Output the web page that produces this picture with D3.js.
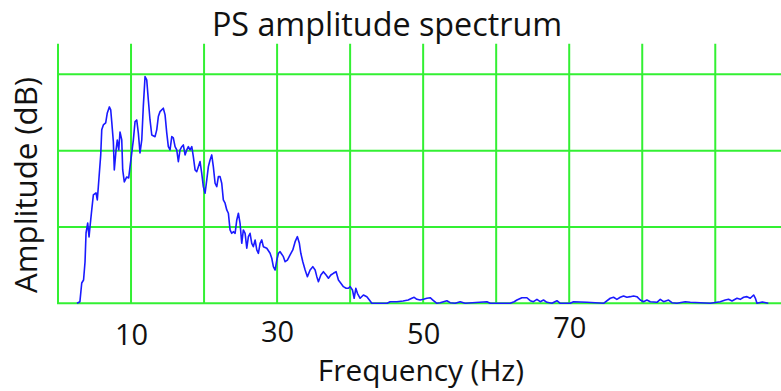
<!DOCTYPE html>
<html>
<head>
<meta charset="utf-8">
<script src="https://cdn.jsdelivr.net/npm/d3@7"></script>
<style>
  html, body { margin: 0; padding: 0; background: #fff; }
  svg { display: block; font-family: "Open Sans", "Noto Sans", sans-serif; }
</style>
</head>
<body>
<svg id="chart" width="781" height="391"></svg>
<script>
/* PS amplitude spectrum */

// spectrum: frequency (Hz) and amplitude (grid units of 10)
const freq = [
  2.6, 3.0, 3.25, 3.5, 3.7, 3.84, 4.07, 4.25, 4.38, 4.62, 4.84, 5.21, 5.38, 5.52, 5.85, 5.99,
  6.21, 6.53, 6.75, 7.03, 7.22, 7.36, 7.58, 7.71, 7.95, 8.12, 8.32, 8.49, 8.73, 8.86, 9.08, 9.41,
  9.68, 9.86, 10.1, 10.32, 10.55, 10.78, 11.0, 11.23, 11.47, 11.68, 11.92, 12.15, 12.37, 12.6, 12.84,
  13.29, 13.52, 13.74, 13.97, 14.42, 14.66, 14.89, 15.11, 15.34, 15.58, 15.79, 16.03, 16.26, 16.48,
  16.71, 16.95, 17.16, 17.4, 17.63, 17.85, 18.08, 18.32, 18.53, 18.77, 19.0, 19.22, 19.45, 19.68,
  19.9, 20.14, 20.37, 20.59, 20.82, 21.05, 21.27, 21.51, 21.74, 21.96, 22.19, 22.42, 22.64, 22.88,
  23.11, 23.33, 23.56, 23.79, 24.01, 24.25, 24.48, 24.7, 24.93, 25.16, 25.38, 25.62, 25.85, 26.07,
  26.3, 26.53, 26.75, 26.99, 27.22, 27.44, 27.67, 27.9, 28.12, 28.59, 29.04, 29.27, 29.49, 29.73,
  29.96, 30.18, 30.41, 30.86, 31.1, 31.41, 31.78, 32.15, 32.47, 32.78, 33.05, 33.25, 33.52, 33.84,
  34.15, 34.52, 34.89, 35.21, 35.44, 35.66, 35.99, 36.34, 36.71, 37.03, 37.36, 37.71, 38.08, 38.4,
  38.73, 39.08, 39.45, 39.77, 40.0, 40.32, 40.55, 40.78, 41.0, 41.37, 41.82, 42.29, 42.64, 42.97,
  45.07, 45.48, 46.4, 47.26, 47.95, 48.45, 48.77, 49.14, 49.59, 50.04, 50.51, 50.96, 51.33, 51.88,
  52.33, 53.25, 53.7, 54.38, 55.07, 55.75, 58.73, 59.18, 61.92, 62.47, 62.84, 63.52, 64.21, 64.66,
  65.11, 65.58, 66.03, 66.48, 66.95, 67.63, 68.32, 68.77, 70.14, 70.59, 72.42, 74.7, 75.62, 76.07,
  76.53, 76.99, 77.44, 77.9, 78.36, 78.81, 79.27, 79.73, 80.18, 80.64, 81.1, 82.01, 82.47, 82.92,
  83.6, 84.07, 84.75, 85.89, 86.58, 89.32, 90.68, 91.37, 91.82, 92.29, 92.97, 93.42, 93.88, 94.34,
  94.79, 95.25, 95.48, 95.71, 96.44, 97.26
];
const amp = [
  0, 0.21, 2.66, 3.05, 5.41, 9.21, 10.52, 8.69, 10.0, 12.23, 14.19, 14.46, 13.54, 15.24, 19.44, 22.72,
  23.37, 23.63, 24.94, 25.73, 25.33, 23.76, 21.14, 17.47, 20.09, 21.4, 20.09, 22.45, 21.4, 17.47, 15.9, 16.55,
  16.42, 17.86, 19.7, 21.4, 23.8, 24.02, 22.31, 19.7, 21.4, 25.77, 29.7, 29.27, 26.64, 24.02, 22.05,
  21.83, 22.72, 24.46, 25.11, 25.56, 24.68, 22.32, 20.52, 20.09, 21.83, 21.66, 20.52, 20.09, 18.56,
  20.09, 20.52, 20.75, 19.44, 20.09, 20.52, 20.09, 20.52, 19.21, 17.47, 17.25, 17.9, 18.56, 17.04,
  15.28, 14.42, 16.16, 17.9, 18.78, 19.44, 17.9, 15.73, 15.28, 16.59, 16.59, 15.73, 13.54, 13.11,
  12.23, 11.8, 9.61, 9.17, 9.38, 9.17, 10.92, 11.8, 10.48, 7.86, 9.61, 9.17, 7.21, 8.73,
  9.17, 7.86, 7.42, 8.3, 6.99, 6.55, 7.86, 8.3, 7.42, 7.21, 6.55, 5.9, 4.8, 4.36,
  5.67, 6.55, 6.76, 6.11, 5.45, 5.67, 6.33, 6.99, 8.07, 8.73, 7.86, 6.55, 5.45, 4.36,
  3.49, 4.36, 4.8, 4.36, 3.49, 2.83, 3.71, 4.14, 3.71, 3.28, 3.71, 3.93, 4.14, 3.05,
  2.62, 2.18, 1.97, 1.97, 2.18, 1.74, 0.66, 1.97, 1.31, 0.66, 1.09, 0.87, 0.43, 0,
  0, 0.21, 0.21, 0.3, 0.43, 0.66, 0.79, 0.52, 0.43, 0.52, 0.66, 0.73, 0.43, 0,
  0.08, 0.34, 0.08, 0, 0.21, 0, 0.21, 0, 0, 0.21, 0.43, 0.73, 0.73, 0.34,
  0.21, 0.52, 0.21, 0.43, 0.13, 0, 0.34, 0, 0, 0.21, 0.13, 0, 0.66, 0.79,
  0.52, 0.79, 0.96, 0.79, 0.87, 0.96, 0.87, 0.43, 0.21, 0.43, 0.21, 0.13, 0.52, 0.21,
  0.43, 0.08, 0, 0.21, 0.13, 0, 0.21, 0.43, 0.52, 0.3, 0.66, 0.52, 0.79, 0.87,
  0.66, 1.09, 0.69, 0, 0.17, 0
];
const xGrid = [0, 10, 20, 30, 40, 50, 60, 70, 80, 90];
const yGrid = [0, 10, 20, 30];
const xTickLabels = [10, 30, 50, 70];

const svg = d3.select('#chart');
const W = 781, H = 391;

const x = d3.scaleLinear().domain([0, 99]).range([58, 781]);
const y = d3.scaleLinear().domain([0, 30]).range([303.3, 74.3]);

const gridColor = '#33f033';

// vertical grid lines (run a bit above the top horizontal line)
svg.append('g').selectAll('line').data(xGrid).join('line')
  .attr('x1', d => x(d)).attr('x2', d => x(d))
  .attr('y1', y(0)).attr('y2', y(34))
  .attr('stroke', gridColor).attr('stroke-width', 2);

// horizontal grid lines
svg.append('g').selectAll('line').data(yGrid).join('line')
  .attr('x1', x(0) - 1).attr('x2', W)
  .attr('y1', d => y(d)).attr('y2', d => y(d))
  .attr('stroke', gridColor).attr('stroke-width', 2);

// spectrum
const pts = freq.map((f, i) => [f, amp[i]]);
svg.append('path')
  .datum(pts)
  .attr('fill', 'none')
  .attr('stroke', '#1a1aff')
  .attr('stroke-width', 1.6)
  .attr('stroke-linejoin', 'round')
  .attr('d', d3.line().x(d => x(d[0])).y(d => y(d[1])));

// tick labels (they sit a little unevenly in the original)
const nudge = { 10: 4, 30: 1, 50: 3, 70: -3 };
const xAxis = svg.append('g')
  .attr('transform', `translate(0,${y(0)})`)
  .call(d3.axisBottom(x).tickValues(xTickLabels).tickSize(0).tickFormat(d3.format('d')));
xAxis.select('.domain').remove();
xAxis.selectAll('text')
  .attr('font-family', '"Open Sans", sans-serif')
  .attr('font-size', 29)
  .attr('fill', '#111')
  .attr('dy', null)
  .attr('y', d => 38 + nudge[d]);

// fit a text element to a target width
function fit(sel, target) {
  const w = sel.node().getComputedTextLength();
  const fs = parseFloat(sel.attr('font-size'));
  sel.attr('font-size', (fs * target / w).toFixed(1));
}

const title = svg.append('text')
  .attr('x', 387).attr('y', 36)
  .attr('text-anchor', 'middle')
  .attr('font-size', 30).attr('fill', '#111')
  .text('PS amplitude spectrum');
fit(title, 350);

const xLabel = svg.append('text')
  .attr('x', 421).attr('y', 381)
  .attr('text-anchor', 'middle')
  .attr('font-size', 30).attr('fill', '#111')
  .text('Frequency (Hz)');
fit(xLabel, 206);

const yLabel = svg.append('text')
  .attr('transform', 'translate(37,185) rotate(-90)')
  .attr('text-anchor', 'middle')
  .attr('font-size', 30).attr('fill', '#111')
  .text('Amplitude (dB)');
fit(yLabel, 216);
</script>
</body>
</html>
